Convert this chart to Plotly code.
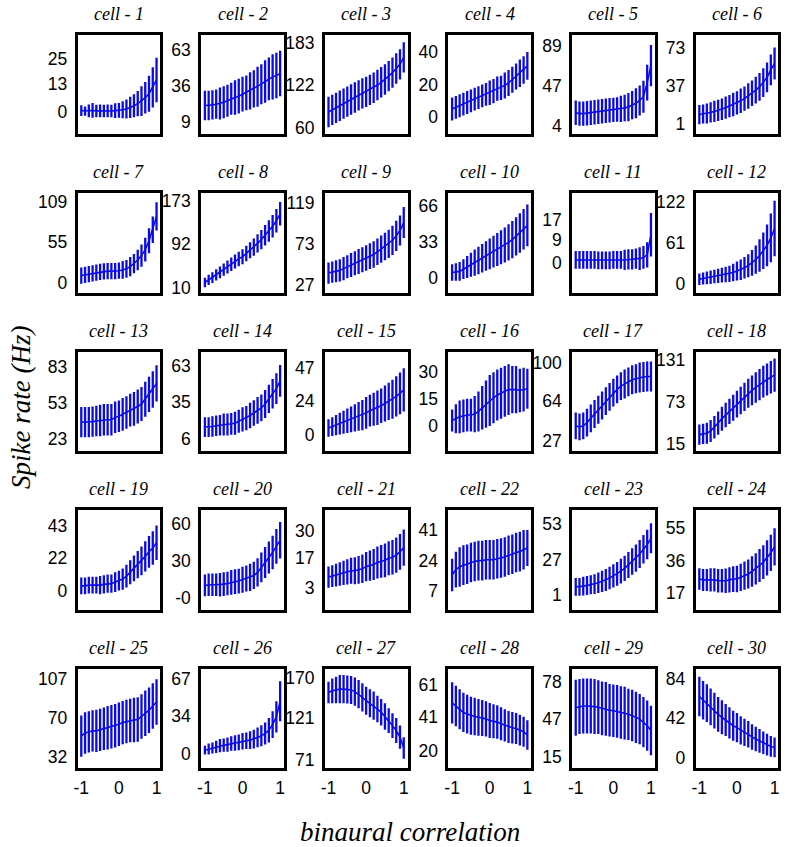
import plotly.graph_objects as go

# ---------------- data ----------------
corr = [-1.0, -0.9, -0.8, -0.7, -0.6, -0.5, -0.4, -0.3, -0.2, -0.1, 0.0,
        0.1, 0.2, 0.3, 0.4, 0.5, 0.6, 0.7, 0.8, 0.9, 1.0]

mean_01 = [0.5, 0.3, 0.4, 0.6, 0.3, 0.4, 0.3, 0.4, 0.3, 0.5, 0.6, 0.9, 1.3, 2.0, 2.8, 3.8, 5.0, 6.6, 8.5, 11.5, 15.0]
sd_01 = [2.5, 2.2, 3, 3.5, 3, 3, 3, 3, 3, 3.5, 3.5, 4, 4.5, 5, 5.5, 6, 7, 7.5, 8.5, 9.5, 10.5]
mean_02 = [21, 21, 21.5, 22, 22.5, 23.5, 24.5, 26, 27, 28, 29.5, 30.5, 32, 33.5, 35, 37, 39, 41, 42.5, 43.5, 45]
sd_02 = [11, 11, 11, 11, 12, 12, 12, 12, 13, 13, 13, 13, 14, 14, 15, 15, 16, 16, 17, 17, 17]
mean_03 = [83, 86, 89, 92, 95, 98, 101, 104, 107, 110, 112, 115, 118, 122, 126, 130, 135, 140, 146, 152, 162]
sd_03 = [22, 22, 22, 22, 22, 22, 22, 22, 22, 22, 22, 22, 22, 22, 22, 22, 22, 22, 22, 22, 22]
mean_04 = [5, 6, 7, 8, 9, 10, 11, 12, 13, 14, 15, 16, 17.5, 18, 19.5, 21, 23, 25, 27, 29, 31.5]
sd_04 = [7, 7, 7, 7, 7, 7, 7, 7, 7, 7, 7.5, 7.5, 7.5, 7.5, 8, 8, 8, 8, 8.5, 8.5, 8.5]
mean_05 = [18, 17, 17, 17.5, 18, 18.5, 19, 19.5, 20, 20.5, 21, 21.5, 22, 23, 24, 26, 28, 31, 35, 50, 68]
sd_05 = [13, 13, 13, 13, 13, 13, 13, 13, 13, 13, 13, 13, 14, 14, 15, 15, 16, 16, 17, 19, 22]
mean_06 = [10, 10.5, 11, 12, 13, 14, 15, 16.5, 18, 19.5, 21, 23, 25, 27.5, 30, 33, 36, 40, 45, 52, 58]
sd_06 = [9, 9, 9.5, 9.5, 10, 10, 10, 10.5, 10.5, 11, 11, 11.5, 11.5, 12, 12, 12.5, 13, 13.5, 14, 14.5, 15]
mean_07 = [10, 11, 12, 13, 14, 15, 15.5, 16, 16, 16, 16.5, 17.5, 19, 22, 26, 31, 37, 45, 57, 72, 90]
sd_07 = [11, 11, 11, 11, 11, 11, 11, 11, 11, 11, 11, 12, 12, 13, 13, 14, 15, 16, 17, 18, 19]
mean_08 = [20, 25, 29, 34, 39, 44, 49, 54, 59, 64, 68, 74, 80, 86, 93, 100, 108, 116, 125, 135, 148]
sd_08 = [9, 9.5, 10, 10.5, 11, 11.5, 12, 12.5, 13, 13.5, 14, 14.5, 15, 16, 17, 18, 19, 20, 21, 22, 22]
mean_09 = [40, 41, 42, 43, 45, 47, 49, 51, 53, 55, 57, 59, 61, 64, 67, 70, 73, 77, 82, 88, 97]
sd_09 = [12, 12, 12.5, 12.5, 13, 13, 13.5, 13.5, 14, 14, 14.5, 14.5, 15, 15, 15.5, 15.5, 16, 16.5, 17, 17, 17.5]
mean_10 = [5, 5.5, 6, 8, 10, 12, 14, 16, 18, 20, 22, 24, 26, 28, 30, 32.5, 35, 38, 41, 44.5, 48]
sd_10 = [7.5, 8, 8.5, 9, 10, 11, 12, 12.5, 13, 13.5, 14, 14.5, 15, 15.5, 16, 16.5, 17, 17.5, 18, 18.5, 19]
mean_11 = [1, 1, 1, 1, 1, 1, 0.8, 0.8, 0.8, 0.8, 1, 1, 1, 1, 1.2, 1.2, 1.5, 1.5, 2, 3, 11]
sd_11 = [3.5, 3.5, 3.5, 3.5, 3.5, 3.5, 3.5, 3.5, 3.5, 3.5, 3.5, 3.5, 3.5, 4, 4, 4, 4, 4.5, 4.5, 5, 8.6]
mean_12 = [7, 8, 9, 10, 11, 12, 13, 14, 15, 17, 19, 21, 24, 27, 31, 36, 42, 49, 57, 68, 82]
sd_12 = [8.5, 9, 9.5, 10, 10, 10.5, 11, 11.5, 12, 13, 14, 15, 16, 17, 19, 21, 24, 27, 31, 36, 41]
mean_13 = [37, 37, 37, 37.5, 38, 38.5, 39, 39, 39, 41, 42, 43.5, 45, 47, 48, 50, 52, 56, 60, 64, 69]
sd_13 = [12.5, 12.5, 12.5, 12.5, 12.5, 13, 13, 13, 13, 13, 13, 13.5, 13.5, 13.5, 14, 14, 14, 14.5, 14.5, 15, 15]
mean_14 = [15, 15, 15.5, 16, 16.5, 17, 17, 17.5, 18, 19.5, 21, 22, 24, 26, 28, 30, 33, 37, 41, 45, 51]
sd_14 = [7.7, 7.7, 8, 8, 8, 8.5, 8.5, 8.5, 9, 9, 9.5, 9.5, 10, 10, 10.5, 10.5, 11, 11, 11.5, 12, 12.4]
mean_15 = [5, 6, 7, 8, 9, 10, 11, 12, 13, 14, 15.5, 17, 18, 19, 20.5, 22, 23.5, 25, 27, 29, 31.5]
sd_15 = [6, 6.5, 7, 7.5, 8, 8.5, 9, 9.5, 10, 10.5, 11, 11, 11.5, 12, 12, 12.5, 13, 13.5, 14, 14.5, 15]
mean_16 = [3, 4, 5, 5.5, 6, 6, 6.5, 8, 10, 12, 14, 15.5, 17, 18, 19, 20, 20, 20, 19.5, 20, 20.5]
sd_16 = [6, 8, 9, 9, 9, 9, 10, 11, 12, 13, 14, 14, 14, 14, 14, 14, 13, 13, 12, 12, 11]
mean_17 = [41, 40, 41, 44, 48, 52, 56, 60, 64, 68, 72, 75, 78, 80, 82, 84, 85, 86, 86.5, 87, 87]
sd_17 = [12.5, 12.5, 12.5, 13, 13, 13, 13, 13, 13, 13, 13, 13, 13, 13.5, 13.5, 13.5, 13.5, 14, 14, 14, 14]
mean_18 = [28, 29, 30, 33, 38, 44, 50, 55, 60, 65, 70, 75, 80, 85, 89, 93, 97, 101, 104, 107, 110]
sd_18 = [14, 14, 14.5, 15, 15.5, 16, 16.5, 17, 17.5, 18, 18.5, 19, 19.5, 20, 20.5, 21, 21.5, 22, 22, 22.5, 23]
mean_19 = [3.5, 3.5, 4, 4, 4, 4, 4.5, 5, 5, 6, 7, 8, 10, 12.5, 15, 17.5, 20, 23, 26, 28.5, 32]
sd_19 = [5.5, 5.5, 5.5, 5.5, 5.5, 6, 6, 6, 6, 6.5, 6.5, 7, 7.5, 8, 8.5, 9, 9.5, 10, 10.5, 11, 11.4]
mean_20 = [10.5, 11, 11, 11, 11, 11.5, 12, 13, 13.5, 14, 15, 16, 17, 18.5, 21, 25, 29, 33, 37, 42, 47]
sd_20 = [8.7, 9, 9, 9, 9.5, 9.5, 9.5, 10, 10, 10, 10.5, 10.5, 11, 11, 11.5, 12, 12.5, 13, 13.5, 14, 14.7]
mean_21 = [8, 8.5, 9, 9.5, 10, 10.5, 11, 11, 11.5, 12, 13, 13.5, 14, 15, 15.5, 16, 17, 17.5, 18.5, 20, 22]
sd_21 = [5, 5.2, 5.4, 5.6, 5.8, 6, 6.2, 6.4, 6.6, 6.8, 7, 7.2, 7.4, 7.6, 7.8, 8, 8.1, 8.2, 8.4, 8.5, 8.6]
mean_22 = [16, 19, 20.5, 21.5, 22, 23, 23.5, 24, 24, 24.5, 24.5, 24.5, 25, 25.5, 26, 27, 27.5, 28.5, 29, 30, 31]
sd_22 = [9, 10, 11, 11, 11, 11, 11, 11, 11, 11, 11, 11, 11, 11, 11, 11, 11, 11, 11, 11, 10]
mean_23 = [7, 7, 7.5, 8, 8.5, 9, 10, 11, 12, 13.5, 15, 16.5, 18.5, 20.5, 23, 25.5, 28, 31, 34.5, 38, 42.5]
sd_23 = [6.5, 6.5, 6.8, 7, 7, 7.3, 7.5, 7.8, 8, 8.2, 8.5, 8.7, 9, 9.2, 9.5, 9.7, 10, 10.2, 10.5, 10.8, 11]
mean_24 = [25, 24.5, 24.5, 24.5, 24.5, 24, 24, 24, 24.5, 25, 25, 26, 27, 28, 29.5, 31, 33, 35, 37.5, 40.5, 44]
sd_24 = [6.3, 6.5, 6.5, 6.8, 6.8, 7, 7, 7.2, 7.4, 7.6, 7.8, 8, 8.3, 8.6, 9, 9.3, 9.7, 10, 10.4, 10.7, 11]
mean_25 = [52, 55, 56, 57, 57, 58, 59, 60, 61, 62, 63.5, 65, 66, 67, 67.5, 68, 71, 74, 77, 81, 85]
sd_25 = [20, 20, 20, 20, 20.5, 20.5, 20.5, 21, 21, 21, 21, 21, 21, 21, 21.5, 21.5, 21.5, 22, 22, 22, 22]
mean_26 = [3, 4, 5, 6, 7, 7.5, 8, 9, 9.5, 10, 11, 11.5, 12, 13, 14.5, 16, 18, 21, 26, 33, 47]
sd_26 = [4, 5, 5, 5.5, 6, 6, 6.5, 6.5, 7, 7, 7.5, 7.5, 8, 8.5, 9, 9.5, 10, 11, 12, 14, 18]
mean_27 = [152, 154, 155, 156, 156, 155.5, 155, 153, 150, 146, 142, 139, 136, 132, 128, 123, 118, 112, 106, 98, 85]
sd_27 = [13, 15, 16, 17, 17, 17, 17, 17, 17, 17, 17, 17, 17, 16, 16, 16, 15, 15, 15, 14, 13]
mean_28 = [50, 48, 46, 44, 43, 42, 41.5, 41, 40.5, 40, 39, 38.5, 38, 37, 36, 35, 34.5, 34, 33, 32, 30]
sd_28 = [12.8, 12.6, 12.4, 12.2, 12, 11.8, 11.6, 11.4, 11.2, 11, 10.8, 10.6, 10.4, 10.2, 10, 9.9, 9.8, 9.6, 9.5, 9.3, 9.2]
mean_29 = [56, 57, 57.5, 57.5, 57.5, 57, 56.5, 55.5, 55, 54, 53.5, 53, 52, 51.5, 50.5, 49.5, 48, 46.5, 44, 41, 37]
sd_29 = [23.5, 23, 23, 23, 23, 23, 22.5, 22.5, 22.5, 22, 22, 22, 22, 22, 21.5, 21.5, 21.5, 21, 21, 21, 20.7]
mean_30 = [65, 61, 58, 54, 50, 46, 43, 40, 37, 34, 32, 29, 27, 25, 22, 20, 18, 16, 14, 12, 11]
sd_30 = [21, 20.5, 20, 19.5, 19, 18.5, 18, 17, 16.5, 16, 15.5, 15, 14.5, 14, 13.5, 13, 12.5, 12, 11.5, 11, 10.5]

means = [mean_01, mean_02, mean_03, mean_04, mean_05, mean_06, mean_07, mean_08, mean_09, mean_10,
         mean_11, mean_12, mean_13, mean_14, mean_15, mean_16, mean_17, mean_18, mean_19, mean_20,
         mean_21, mean_22, mean_23, mean_24, mean_25, mean_26, mean_27, mean_28, mean_29, mean_30]
sds = [sd_01, sd_02, sd_03, sd_04, sd_05, sd_06, sd_07, sd_08, sd_09, sd_10,
       sd_11, sd_12, sd_13, sd_14, sd_15, sd_16, sd_17, sd_18, sd_19, sd_20,
       sd_21, sd_22, sd_23, sd_24, sd_25, sd_26, sd_27, sd_28, sd_29, sd_30]

y_tick_vals = [[0, 13, 25], [9, 36, 63], [60, 122, 183], [0, 20, 40], [4, 47, 89], [1, 37, 73],
               [0, 55, 109], [10, 92, 173], [27, 73, 119], [0, 33, 66], [0, 9, 17], [0, 61, 122],
               [23, 53, 83], [6, 35, 63], [0, 24, 47], [0, 15, 30], [27, 64, 100], [15, 73, 131],
               [0, 22, 43], [0, 30, 60], [3, 17, 30], [7, 24, 41], [1, 27, 53], [17, 36, 55],
               [32, 70, 107], [0, 34, 67], [71, 121, 170], [20, 41, 61], [15, 47, 78], [0, 42, 84]]
y_tick_text = [[str(v) for v in tv] for tv in y_tick_vals]
y_tick_text[19][0] = "-0"

x_tick_vals = [-1, 0, 1]
x_tick_text = ["-1", "0", "1"]

# axis view limits (layout)
y_limits = [[-10.6, 36.3], [-0.4, 73.9], [51, 194.5], [-10.4, 50.5], [-4.7, 100.6], [-8.3, 84.8],
            [-13, 121], [1.3, 185.9], [18, 129.8], [-13.3, 77.1], [-11.9, 27.3], [-12.7, 133.7],
            [13.2, 95], [-3.7, 73.6], [-11, 57.8], [-13.8, 40.7], [17.5, 109.9], [5.4, 141.9],
            [-12.1, 53.3], [-9, 71], [-7.4, 39.7], [-3.2, 51.9], [-9.6, 62.9], [7, 65.5],
            [21.1, 116.9], [-13.1, 76.2], [60.7, 180.4], [9.5, 71], [5.6, 88.5], [-10.8, 94.2]]

# ---------------- layout geometry ----------------
W, H = 785, 847
BOX_W, BOX_H = 83.3, 100.0
COL0, COL_STEP = 74.0, 124.4
ROW0, ROW_STEP = 32.3, 160.0
BLUE = "#0a0ae6"
TICK_FONT = dict(family="Liberation Sans, Arial, sans-serif", size=17.5, color="black")
SERIF = "Liberation Serif, Times New Roman, serif"

fig = go.Figure()
layout = dict(
    width=W, height=H,
    margin=dict(l=0, r=0, t=0, b=0),
    paper_bgcolor="white", plot_bgcolor="white",
    showlegend=False,
)
annotations = []

for i in range(30):
    r, c = divmod(i, 6)
    left = COL0 + c * COL_STEP
    top = ROW0 + r * ROW_STEP
    xd = [left / W, (left + BOX_W) / W]
    yd = [1 - (top + BOX_H) / H, 1 - top / H]
    n = i + 1
    xa = "xaxis" if n == 1 else f"xaxis{n}"
    ya = "yaxis" if n == 1 else f"yaxis{n}"
    xref = "x" if n == 1 else f"x{n}"
    yref = "y" if n == 1 else f"y{n}"

    fig.add_trace(go.Scatter(
        x=corr, y=means[i], mode="lines",
        line=dict(color=BLUE, width=1.6),
        error_y=dict(type="data", array=sds[i], symmetric=True, visible=True,
                     color=BLUE, thickness=2.3, width=0),
        xaxis=xref, yaxis=yref, hoverinfo="skip",
    ))

    bottom_row = (r == 4)
    layout[xa] = dict(
        domain=xd, anchor=yref, range=[-1.1, 1.1],
        showgrid=False, zeroline=False,
        showline=True, mirror=True, linecolor="black", linewidth=2.6,
        ticks="", tickvals=x_tick_vals, ticktext=x_tick_text,
        showticklabels=bottom_row, tickfont=TICK_FONT, ticklabelstandoff=2,
    )
    layout[ya] = dict(
        domain=yd, anchor=xref, range=y_limits[i],
        showgrid=False, zeroline=False,
        showline=True, mirror=True, linecolor="black", linewidth=2.6,
        ticks="", tickvals=y_tick_vals[i], ticktext=y_tick_text[i],
        tickfont=TICK_FONT, ticklabelstandoff=4,
    )
    annotations.append(dict(
        text=f"<i>cell - {n}</i>", xref="paper", yref="paper",
        x=(left + BOX_W / 2) / W, y=1 - (top - 21.5) / H,
        xanchor="center", yanchor="middle", showarrow=False,
        font=dict(family=SERIF, size=18, color="black"),
    ))

annotations.append(dict(
    text="<i>binaural correlation</i>", xref="paper", yref="paper",
    x=409 / W, y=1 - 837 / H, xanchor="center", yanchor="middle", showarrow=False,
    font=dict(family=SERIF, size=27, color="black"),
))
annotations.append(dict(
    text="<i>Spike rate (Hz)</i>", xref="paper", yref="paper",
    x=17 / W, y=1 - 408 / H, xanchor="center", yanchor="middle", showarrow=False,
    textangle=-90, font=dict(family=SERIF, size=27, color="black"),
))
layout["annotations"] = annotations
fig.update_layout(**layout)
fig.write_html(
    "out.html",
    config={"displayModeBar": False},
    post_script="document.body.style.margin='0';document.body.style.overflow='hidden';",
)
